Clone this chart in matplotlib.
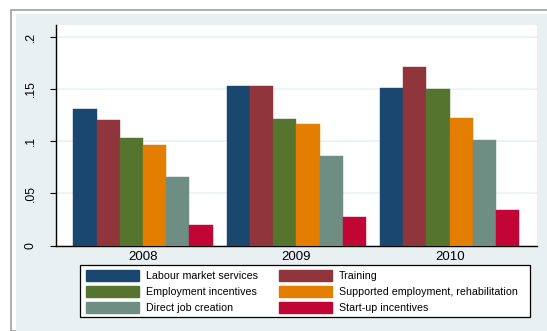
import matplotlib
matplotlib.use("Agg")
import matplotlib.pyplot as plt
from matplotlib.patches import Rectangle, Patch
import numpy as np

years = ["2008", "2009", "2010"]
series = ["Labour market services", "Training", "Employment incentives",
          "Supported employment, rehabilitation", "Direct job creation",
          "Start-up incentives"]
labour = [0.1307, 0.1527, 0.1510]
training = [0.1199, 0.1530, 0.1708]
employment = [0.1027, 0.1211, 0.1498]
supported = [0.0960, 0.1163, 0.1218]
direct = [0.0660, 0.0860, 0.1010]
startup = [0.0195, 0.0277, 0.0338]
values = [labour, training, employment, supported, direct, startup]
colors = ["#1a476f", "#90353b", "#55752f", "#e37e00", "#6e8e84", "#c10534"]

plt.rcParams['font.family'] = ['Liberation Sans', 'DejaVu Sans']

W, H = 547, 331
fig = plt.figure(figsize=(W/100, H/100), dpi=100)
fig.patch.set_facecolor("white")
# outer frame and light bluish background
fig.patches.append(Rectangle((11/W, 0), 1, 1 - 10/H, transform=fig.transFigure,
                             facecolor="white", edgecolor="#a0a0a0", lw=1.2, zorder=-3))
fig.patches.append(Rectangle((16/W, 0), 1, 1 - 14/H, transform=fig.transFigure,
                             facecolor="#e9f0f2", edgecolor="none", zorder=-2))
# legend frame
fig.patches.append(Rectangle((80/W, 1 - 316.7/H), 450/W, 51.4/H, transform=fig.transFigure,
                             facecolor="white", edgecolor="black", lw=0.9, zorder=-1))

x0, x1, y0, y1 = 55.7, 536.7, 25, 245.7
ax = fig.add_axes([x0/W, 1 - y1/H, (x1-x0)/W, (y1-y0)/H])
ax.set_zorder(2)
ax.set_facecolor("white")

bw = 1.0
starts = [0.76, 7.37, 13.98]
for i, yr in enumerate(years):
    for j, vals in enumerate(values):
        ax.bar(starts[i] + j*bw, vals[i], width=bw, align="edge",
               color=colors[j], edgecolor=colors[j], lw=0.3, zorder=3)

ax.set_xlim(0, 20.73)
ax.set_ylim(0, 0.211)
ax.set_xticks([s + 3 for s in starts])
ax.set_xticklabels(years, fontsize=9.5)
ax.tick_params(axis='x', length=0, pad=4)
yt = [0, 0.05, 0.1, 0.15, 0.2]
ax.set_yticks(yt)
ax.set_yticklabels(["0", ".05", ".1", ".15", ".2"], rotation=90, va="center", fontsize=8.8)
ax.tick_params(axis='y', length=4.1, width=0.8, pad=9.5)
ax.grid(axis='y', color="#eaf2f3", lw=1.2, zorder=0)
for s in ["top", "right"]:
    ax.spines[s].set_visible(False)
ax.spines["left"].set_linewidth(1.0)
ax.spines["bottom"].set_linewidth(1.0)

order = [0, 2, 4, 1, 3, 5]
handles = [Patch(facecolor=colors[k], edgecolor=colors[k]) for k in order]
labels = [series[k] for k in order]
leg = fig.legend(handles, labels, ncol=2, loc="upper left",
                 bbox_to_anchor=(81/W, 1 - 265.3/H), fontsize=7.7,
                 frameon=False,
                 handlelength=4.95, handleheight=1.2, handletextpad=0.68,
                 columnspacing=1.95, labelspacing=0.45, borderpad=0.45,
                 borderaxespad=0)
leg.set_zorder(5)

fig.savefig("out.png", dpi=100)
